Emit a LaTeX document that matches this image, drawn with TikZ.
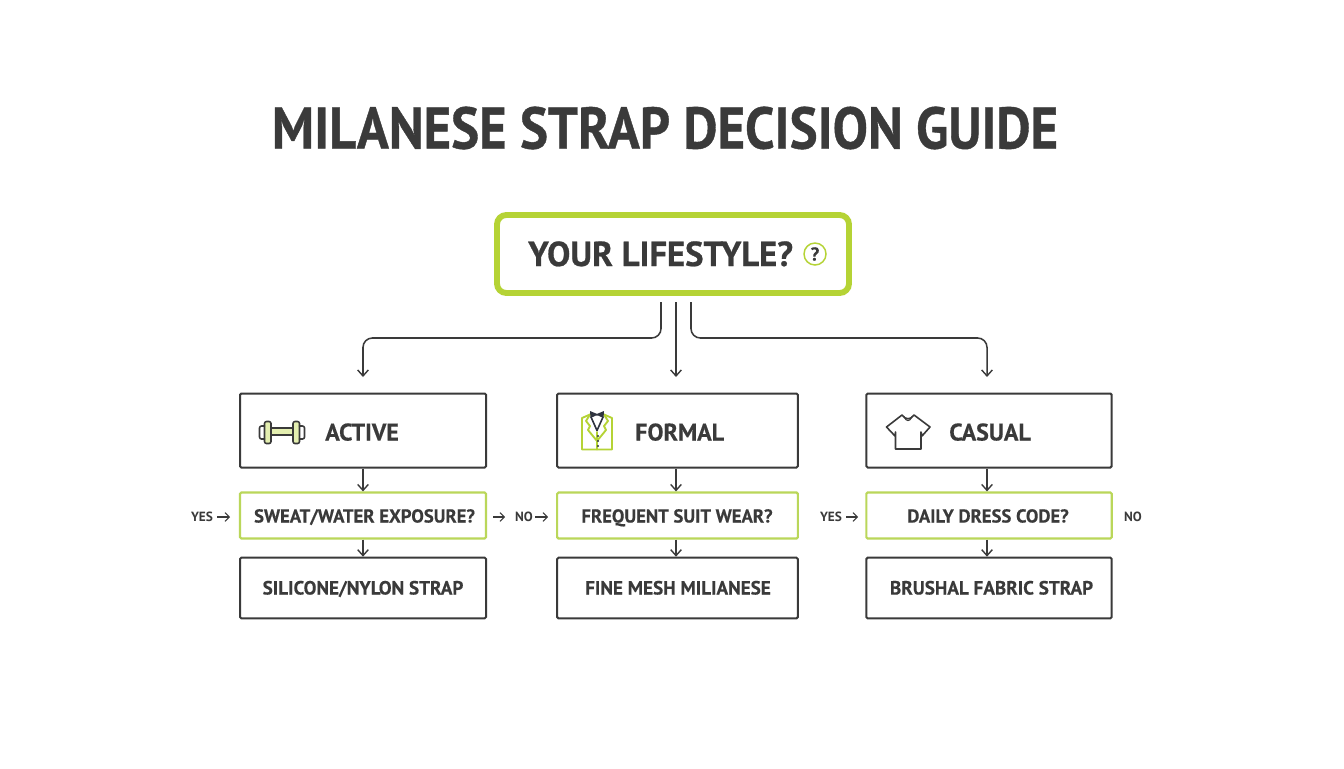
\documentclass[tikz,border=0pt]{standalone}
\usepackage{fontspec}
\setmainfont{PT Sans}
\newfontface\heavyface{PT Sans Bold}[FakeBold=0.7]
\newfontface\semiheavyface{PT Sans Bold}[FakeBold=0.3]
\usetikzlibrary{arrows.meta}
\definecolor{ink}{HTML}{3A3A3A}
\definecolor{lime}{HTML}{B5D335}
\definecolor{limesoft}{HTML}{BAD75A}
\definecolor{limepale}{HTML}{E4EFB0}
\definecolor{navy}{HTML}{2F3440}
\tikzset{
  x=0.75pt,y=-0.75pt,
  titletext/.style={font=\heavyface\fontsize{44}{44}\selectfont,text=ink,inner sep=0pt},
  maintext/.style={font=\heavyface\fontsize{26}{26}\selectfont,text=ink,inner sep=0pt,anchor=base west},
  headtext/.style={font=\semiheavyface\fontsize{18}{18}\selectfont,text=ink,inner sep=0pt,anchor=base west},
  asktext/.style={font=\semiheavyface\fontsize{14}{14}\selectfont,text=ink,inner sep=0pt,anchor=base},
  restext/.style={font=\semiheavyface\fontsize{14.35}{14.35}\selectfont,text=ink,inner sep=0pt,anchor=base},
  sidetext/.style={font=\bfseries\fontsize{10}{10}\selectfont,text=ink,inner sep=0pt,anchor=base},
  mainbox/.style={draw=lime,line width=4.4pt,rounded corners=7pt,fill=white,minimum width=264pt,minimum height=58.5pt,inner sep=0pt},
  headbox/.style={draw=ink,line width=1.5pt,rounded corners=1pt,fill=white,inner sep=0pt},
  askbox/.style={draw=limesoft,line width=1.6pt,rounded corners=1pt,fill=white,inner sep=0pt},
  link/.style={draw=ink,line width=1.15pt,-{Straight Barb[length=4.5pt,width=8pt,line width=1.05pt]}},
  sidelink/.style={draw=ink,line width=.8pt,-{Straight Barb[length=3.2pt,width=6.5pt,line width=.8pt]}},
  trunk/.style={draw=ink,line width=1.15pt,rounded corners=7pt,-{Straight Barb[length=4.5pt,width=8pt,line width=1.05pt]}},
  iconline/.style={draw=ink,line width=1.2pt,line join=round,line cap=round},
  icongreen/.style={draw=lime,line width=1.4pt,line join=round,line cap=round},
}
\begin{document}
\begin{tikzpicture}
\useasboundingbox (0,0) rectangle (1344,768);
\fill[white] (0,0) rectangle (1344,768);
\node[titletext] (title) at (665,128) {\scalebox{0.9}[1]{MILANESE STRAP DECISION GUIDE}};
% main
\node[mainbox] (main) at (673,254) {};
\node[maintext] (maintxt) at (528,266) {YOUR LIFESTYLE?};
\node[circle,draw=lime,line width=1.1pt,minimum size=16.5pt,inner sep=0pt,text=ink,font=\semiheavyface\fontsize{14}{14}\selectfont] (help) at (815,254) {?};
% rows
\node[headbox,minimum width=184.5pt,minimum height=55.5pt] (active) at (363,430.5) {};
\node[headbox,minimum width=180.5pt,minimum height=55.5pt] (formal) at (677.5,430.5) {};
\node[headbox,minimum width=184pt,minimum height=55.5pt] (casual) at (989,430.5) {};
\node[askbox,minimum width=184.5pt,minimum height=34.5pt] (askA) at (363,515.5) {};
\node[askbox,minimum width=180.5pt,minimum height=34.5pt] (askB) at (677.5,515.5) {};
\node[askbox,minimum width=184pt,minimum height=34.5pt] (askC) at (989,515.5) {};
\node[headbox,minimum width=184.5pt,minimum height=45.5pt] (resA) at (363,588) {};
\node[headbox,minimum width=180.5pt,minimum height=45.5pt] (resB) at (677.5,588) {};
\node[headbox,minimum width=184pt,minimum height=45.5pt] (resC) at (989,588) {};
\node[headtext] (tA) at (325,440.5) {ACTIVE};
\node[headtext] (tB) at (635,440.5) {FORMAL};
\node[headtext] (tC) at (949,440.5) {CASUAL};
\node[asktext] (qA) at (364.5,522.5) {SWEAT/WATER EXPOSURE?};
\node[asktext] (qB) at (677,522.5) {FREQUENT SUIT WEAR?};
\node[asktext] (qC) at (988,522.5) {DAILY DRESS CODE?};
\node[restext] (rA) at (363,594.5) {SILICONE/NYLON STRAP};
\node[restext] (rB) at (678,594.5) {FINE MESH MILIANESE};
\node[restext] (rC) at (991.5,594.5) {BRUSHAL FABRIC STRAP};
% trunk connectors
\coordinate (sL) at (661,302);
\coordinate (sM) at (676,302);
\coordinate (sR) at (691,302);
\coordinate (eL) at (363,377);
\coordinate (eM) at (676,377);
\coordinate (eR) at (987,377);
\draw[trunk] (sL) -- (661,338) -- (363,338) -- (eL);
\draw[link] (sM) -- (eM);
\draw[trunk] (sR) -- (691,338) -- (987,338) -- (eR);
% vertical links
\draw[link] (active.south -| eL) -- (askA.north -| eL);
\draw[link] (formal.south -| eM) -- (askB.north -| eM);
\draw[link] (casual.south -| eR) -- (askC.north -| eR);
\draw[link] (askA.south -| eL) -- (resA.north -| eL);
\draw[link] (askB.south -| eM) -- (resB.north -| eM);
\draw[link] (askC.south -| eR) -- (resC.north -| eR);
% side labels
\node[sidetext] (yA) at (202,521.5) {YES};
\node[sidetext] (nB) at (524,521.5) {NO};
\node[sidetext] (yC) at (831,521.5) {YES};
\node[sidetext] (nC) at (1133,521.5) {NO};
\coordinate (a1) at (217,517); \coordinate (a1e) at (230,517);
\coordinate (a2) at (493,517); \coordinate (a2e) at (505,517);
\coordinate (a3) at (535,517); \coordinate (a3e) at (548,517);
\coordinate (a4) at (846,517); \coordinate (a4e) at (858,517);
\draw[sidelink] (a1) -- (a1e);
\draw[sidelink] (a2) -- (a2e);
\draw[sidelink] (a3) -- (a3e);
\draw[sidelink] (a4) -- (a4e);
% dumbbell
\fill[limepale] (271,428) rectangle (293,435);
\fill[limepale,rounded corners=1.5pt] (264.5,421.5) rectangle (271,443.5);
\fill[limepale,rounded corners=1.5pt] (293,421.5) rectangle (299.5,443.5);
\draw[iconline,rounded corners=1.5pt] (264.5,421.5) rectangle (271,443.5);
\draw[iconline,rounded corners=1.5pt] (293,421.5) rectangle (299.5,443.5);
\draw[iconline,rounded corners=1.5pt] (264.5,426) -- (259.5,426) -- (259.5,439) -- (264.5,439);
\draw[iconline,rounded corners=1.5pt] (299.5,426) -- (304.5,426) -- (304.5,439) -- (299.5,439);
\draw[iconline] (271,428) -- (293,428) (271,435) -- (293,435);
% suit
\draw[icongreen] (590,414.5) -- (582,418) -- (582,449.5) -- (612,449.5) -- (612,418) -- (604,414.5);
\draw[icongreen] (590,414.5) -- (586,421) -- (590,426) -- (588,430) -- (597,441);
\draw[icongreen] (604,414.5) -- (608,421) -- (604,426) -- (606,430) -- (597,441);
\draw[icongreen] (597,432) -- (597,449.5);
\draw[iconline,draw=navy] (591,417) -- (597,430.5) -- (603,417);
\fill[navy] (590,411) -- (596,413.5) -- (598,413.5) -- (604,411) -- (603.5,418) -- (598,415.5) -- (596,415.5) -- (590.5,418) -- cycle;
\fill[navy] (598,436) circle (.8pt) (598,441) circle (.8pt) (598,446) circle (.8pt);
% t-shirt
\draw[iconline] (902,415) -- (886.5,427) -- (895,436) -- (895.5,432) -- (895.5,449) -- (921,449) -- (921,432) -- (922,436) -- (930,427) -- (914,415) .. controls (911,420) and (905,420) .. (902,415) -- cycle;
\draw[iconline,line width=.8pt] (904,416.5) .. controls (906,422) and (910,422) .. (912,416.5);
\end{tikzpicture}
\end{document}
